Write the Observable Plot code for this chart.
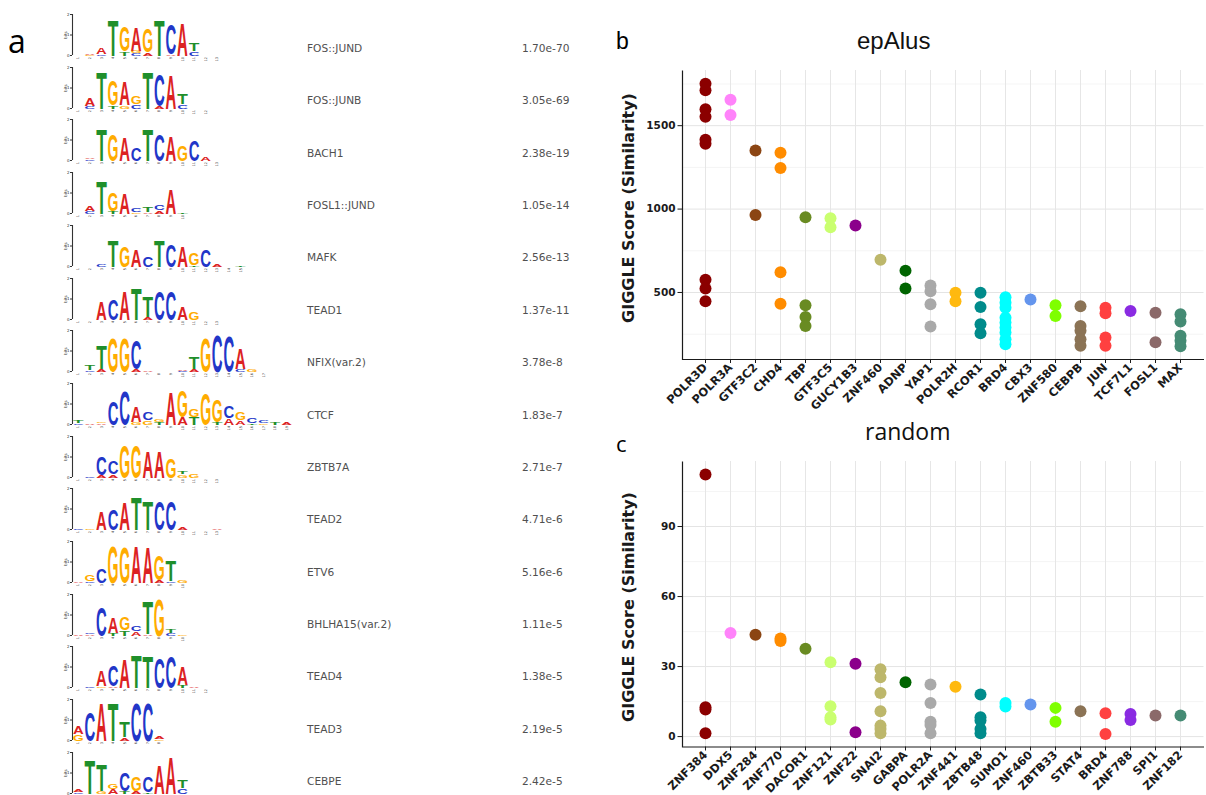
<!DOCTYPE html>
<html><head><meta charset="utf-8">
<script src="https://cdn.jsdelivr.net/npm/d3@7"></script>
<script src="https://cdn.jsdelivr.net/npm/@observablehq/plot@0.6"></script>
<style>
html,body{margin:0;padding:0;background:#fff;}
#fig{position:relative;width:1206px;height:795px;overflow:hidden;background:#fff;}
.abs{position:absolute;white-space:nowrap;}
</style></head><body><div id="fig"></div>
<script>
// ---------------- DATA ----------------
const motifNames = ["FOS::JUND","FOS::JUNB","BACH1","FOSL1::JUND","MAFK","TEAD1","NFIX(var.2)","CTCF","ZBTB7A","TEAD2","ETV6","BHLHA15(var.2)","TEAD4","TEAD3","CEBPE"];
const motifPvalues = ["1.70e-70","3.05e-69","2.38e-19","1.05e-14","2.56e-13","1.37e-11","3.78e-8","1.83e-7","2.71e-7","4.71e-6","5.16e-6","1.11e-5","1.38e-5","2.19e-5","2.42e-5"];
// each column: letters with information content (bits)
const motifColumns = [
  ["", "G.03 A.03", "C.08 A.33", "T1.75", "T.2 G1.2", "C.1 G.1 A1.15", "A.15 G1.15", "T1.75", "A.05 C1.5", "A1.6", "C.2 T.35", "", ""],
  ["", "C.1 A.35", "T1.8", "T.15 G1.2", "G.15 A1.15", "C.2 G.4", "T1.8", "A.1 C1.55", "A1.65", "C.2 T.5", "", ""],
  ["", "C.06 A.08", "T1.55", "G1.3", "A1.15", "C.65", "T1.55", "C1.3", "A1.2", "G.75", "C1.05", "A.2", ""],
  ["", "C.1 A.25", "T1.6", "T.1 G.9", "A1.0", "G.05 C.2", "A.08 T.25", "A.15 C.25", "A1.2", "T.05"],
  ["", "", "C.12", "T1.3", "G1.0", "A.85", "C.5", "T1.3", "C1.1", "A1.0", "T.05 G.6", "C.85", "A.1", "", "T.03"],
  ["", "", "A.9", "C1.05", "A1.4", "T1.55", "A.1 T1.0", "C1.4", "C1.4", "A.65", "G.35", "", ""],
  ["", "C.05 T.28", "A.1 T1.15", "G1.7", "G1.7", "A.1 C1.45", "A.05", "", "", "C.03 A.05", "A.1 T.6", "G1.65", "C1.8", "C1.75", "C.1 A1.05", "G.1", ""],
  ["C.05 T.15", "A.03", "A.05 G.08", "C1.15", "C1.65", "G.1 A.75", "G.2 C.4", "T.1 G.12", "A1.6", "A.35 G1.3", "T.35 G.4", "G1.55", "T.1 G1.1", "A.3 C.6", "A.2 G.35", "T.05 C.25", "G.05 C.1", "T.1", "A.1"],
  ["", "C.03", "A.1 C.9", "A.15 C.65", "G1.6", "G1.6", "A1.3", "A1.3", "G.95", "G.15 T.15", "G.2", "", ""],
  ["C.03", "G.05", "A.9", "C1.0", "A1.35", "T1.6", "T1.45", "C1.45", "C1.45", "A.15", "", "", "A.05"],
  ["A.05", "C.08 G.3", "C.7", "G1.8", "G1.75", "A1.8", "A1.75", "A.1 G1.25", "C.05 T1.0", "G.15"],
  ["A.03", "A.05 C.05", "C1.4", "T.1 A.75", "T.25 G.65", "A.2 C.25", "A.05 T1.6", "G1.8", "C.1 T.2", "G.05"],
  ["", "C.03", "G.08 A.8", "A.05 C1.0", "A1.4", "T1.6", "T1.55", "C1.5", "C1.55", "T.1 A.9", "A.03", ""],
  ["G.3 A.4", "C1.4", "A1.85", "T1.85", "A.15 T.75", "C1.85", "C1.85", "G.08 A.12"],
  ["C.05 A.1", "T1.65", "G.1 T1.3", "A.22 G.25", "T.1 C.9", "A.1 G.7", "T.05 C.8", "A1.4", "A1.8", "C.25 T.4"]
];
const bases = ["A","C","G","T"];
const baseColors = ["#dc2222","#2236c8","#ffac00","#1f8f2b"];

const epalusTFs = ["POLR3D","POLR3A","GTF3C2","CHD4","TBP","GTF3C5","GUCY1B3","ZNF460","ADNP","YAP1","POLR2H","RCOR1","BRD4","CBX3","ZNF580","CEBPB","JUN","TCF7L1","FOSL1","MAX"];
const epalusScores = [
  [1752,1712,1599,1554,1415,1391,577,524,448],
  [1655,1564],
  [1351,964],
  [1338,1246,621,433],
  [951,424,353,299],
  [945,891],
  [901],
  [696],
  [631,524],
  [542,508,429,296],
  [498,448],
  [498,413,310,256],
  [472,439,409,349,320,290,260,220,190],
  [458],
  [423,359],
  [418,299,270,220,180],
  [409,375,230,180],
  [389],
  [379,201],
  [369,326,240,210,177]
];
const epalusMajorTicks = [500,1000,1500];
const epalusMinorTicks = [250,750,1250,1750];

const randomTFs = ["ZNF384","DDX5","ZNF284","ZNF770","DACOR1","ZNF121","ZNF22","SNAI2","GABPA","POLR2A","ZNF441","ZBTB48","SUMO1","ZNF460","ZBTB33","STAT4","BRD4","ZNF788","SPI1","ZNF182"];
const randomScores = [
  [112.3,12.6,11.6,1.4],
  [44.4],
  [43.6],
  [42.0,41.0],
  [37.6],
  [31.9,13.0,8.3,7.3],
  [31.2,1.9],
  [28.9,25.4,18.7,10.9,4.7,3.3,1.4],
  [23.3],
  [22.3,14.4,6.4,5.0,1.4],
  [21.4],
  [18.0,8.3,6.9,3.3,1.4],
  [14.4,12.9],
  [13.7],
  [12.3,6.4],
  [10.9],
  [10.0,1.1],
  [9.7,7.1],
  [9.0],
  [9.0]
];
const randomMajorTicks = [0,30,60,90];
const randomMinorTicks = [15,45,75,105];

const tfColors = ["#8B0000","#FF83FA","#8B4513","#FF8C00","#698B22","#CAFF70","#8B008B","#BDB76B","#006400","#A9A9A9","#FFB90F","#008B8B","#00FFFF","#6495ED","#7FFF00","#8B7355","#FF4040","#8A2BE2","#8B6969","#458B74"];

// ---------------- LAYOUT HELPERS ----------------
const fig = document.getElementById("fig");
function addText(txt, o) {
  const d = document.createElement("div");
  d.className = "abs";
  d.textContent = txt;
  const k = o.k ?? 0.846;
  Object.assign(d.style, {
    left: o.left + "px", top: (o.baseline - k * o.size) + "px",
    fontSize: o.size + "px", lineHeight: o.size + "px",
    fontFamily: o.family, fontWeight: o.weight || "normal", color: o.color || "#000"
  });
  fig.appendChild(d);
  return d;
}
function addVTitle(txt, cx, cy) {
  const d = document.createElement("div");
  d.className = "abs";
  d.textContent = txt;
  Object.assign(d.style, {
    left: cx + "px", top: cy + "px", transform: "translate(-50%,-50%) rotate(-90deg)",
    fontSize: "16px", lineHeight: "16px", fontFamily: "DejaVu Sans", fontWeight: "bold", color: "#1a1a1a"
  });
  fig.appendChild(d);
}

// ---------------- PANEL A: motif logos ----------------
addText("a", {left: 8, baseline: 53, size: 32, family: "Open Sans", k: 0.888});
const LOGO_MAX_POS = 19;
const logoXDomain = [0.5, LOGO_MAX_POS + 0.5];
const CAP = 0.716;            // cap height of Liberation Sans (em)
const ADV = {A: 0.70, C: 0.70, G: 0.74, T: 0.60};
const LETTER_FS = 10;

motifColumns.forEach((cols, m) => {
  const letters = [];
  cols.forEach((col, c) => {
    const items = col.trim() ? col.trim().split(/\s+/).map(s => ({letter: s[0], h: +s.slice(1)})) : [];
    items.sort((a, b) => a.h - b.h);
    let acc = 0;
    for (const it of items) { letters.push({pos: c + 1, letter: it.letter, h: it.h, y0: acc}); acc += it.h; }
  });
  const positions = d3.range(1, cols.length + 1);
  const baseline = 55 + 52.7 * m;
  const svg = Plot.plot({
    width: 300, height: 53, marginLeft: 72, marginRight: 8, marginTop: 6, marginBottom: 6,
    x: {domain: logoXDomain},
    y: {domain: [0, 2]},
    color: {domain: bases, range: baseColors},
    style: {background: "transparent", color: "#333", overflow: "visible", fontFamily: "DejaVu Sans"},
    marks: [
      Plot.ruleX([logoXDomain[0]], {y1: 0, y2: 2, strokeWidth: 1.1}),
      Plot.axisY({ticks: [0, 1, 2], tickFormat: d3.format("d"), tickSize: 2, tickPadding: 1, fontSize: 4, label: "bits", labelAnchor: "center", labelOffset: 8, labelArrow: "none"}),
      Plot.axisX({ticks: positions, tickSize: 0, tickPadding: 1.5, fontSize: 3.5, tickRotate: -90, label: null}),
      Plot.text(letters, {x: "pos", y: "y0", text: "letter", fill: "letter", lineAnchor: "bottom",
        fontSize: LETTER_FS, fontFamily: "Liberation Sans", fontWeight: "bold", ariaLabel: "letters"})
    ]
  });
  svg.style.position = "absolute";
  svg.style.left = "0px";
  svg.style.top = (baseline - 41 - 6) + "px";
  fig.appendChild(svg);
  const ys = svg.scale("y"), xs = svg.scale("x");
  const colW = Math.abs(xs.apply(2) - xs.apply(1));
  // the letters: text elements that are not inside an axis group
  const letterNodes = Array.from(svg.querySelectorAll("text")).filter(t => {
    const g = t.closest("g[aria-label]");
    const lab = g ? g.getAttribute("aria-label") : "";
    return !/axis/.test(lab) && bases.includes(t.textContent.trim());
  });
  letterNodes.forEach((t, k) => {
    const d = t.__data__;
    const i = typeof d === "number" ? d : k;
    const L = letters[i];
    if (!L) return;
    const hpx = ys.apply(0) - ys.apply(L.h);
    const sy = hpx / (CAP * LETTER_FS);
    const sx = colW * 0.9 / (ADV[L.letter] * LETTER_FS);
    let tx = xs.apply(L.pos), ty = ys.apply(L.y0);
    t.removeAttribute("x"); t.removeAttribute("y"); t.removeAttribute("dy");
    t.setAttribute("text-anchor", "middle");
    t.setAttribute("transform", `translate(${tx.toFixed(2)},${ty.toFixed(2)}) scale(${sx.toFixed(3)},${sy.toFixed(3)})`);
    // ensure parent group has no extra offset
    const g = t.parentNode;
    if (g && g.getAttribute && g.getAttribute("transform") && g.tagName === "g" && g !== svg) {
      // Plot may add a 0.5px offset on the group; keep it (negligible)
    }
  });

  addText(motifNames[m], {left: 307, baseline: 52 + 52.36 * m, size: 10.6, family: "DejaVu Sans", color: "#505050"});
  addText(motifPvalues[m], {left: 522, baseline: 52 + 52.36 * m, size: 10.6, family: "DejaVu Sans", color: "#505050"});
});

// ---------------- PANELS B & C: dot plots ----------------
function dotPanel(tfs, scores, o) {
  const rows = tfs.flatMap((tf, i) => scores[i].map(v => ({tf, v})));
  const [lo, hi] = d3.extent(rows, d => d.v);
  const pad = (hi - lo) * 0.05;
  const W = 606, mL = 82, mR = 2.5;
  const fw = W - mL - mR, fh = o.height - o.marginTop - o.marginBottom;
  const svg = Plot.plot({
    width: W, height: o.height, marginLeft: mL, marginRight: mR, marginTop: o.marginTop, marginBottom: o.marginBottom,
    x: {type: "point", domain: tfs, padding: 0.6},
    y: {domain: [lo - pad, hi + pad]},
    color: {domain: tfs, range: tfColors},
    style: {fontFamily: "DejaVu Sans", fontWeight: "bold", color: "#1a1a1a", background: "transparent", overflow: "visible"},
    marks: [
      Plot.ruleY(o.minorTicks, {stroke: "#f1f1f1", strokeWidth: 0.8}),
      Plot.ruleY(o.majorTicks, {stroke: "#e4e4e4", strokeWidth: 1}),
      Plot.ruleX(tfs, {stroke: "#e6e6e6", strokeWidth: 1}),
      Plot.frame({stroke: "#1a1a1a", strokeWidth: 1.2, strokeDasharray: `0,${fw + fh},${fw + fh + 20}`}),
      Plot.dot(rows, {x: "tf", y: "v", fill: "tf", r: 6}),
      Plot.axisX({tickRotate: -45, tickSize: 4, tickPadding: 2, fontSize: 11.5, fontWeight: "bold", label: null}),
      Plot.axisY({ticks: o.majorTicks, tickFormat: d3.format("d"), tickSize: 4.5, tickPadding: 2.5, fontSize: 10.5, fontWeight: "bold", label: null})
    ]
  });
  svg.style.position = "absolute";
  svg.style.left = "600px";
  svg.style.top = o.top + "px";
  fig.appendChild(svg);
}

addText("b", {left: 616, baseline: 49, size: 23, family: "Liberation Sans"});
addText("epAlus", {left: 857, baseline: 49, size: 24, family: "Liberation Sans", color: "#111"});
addVTitle("GIGGLE Score (Similarity)", 629, 208);
dotPanel(epalusTFs, epalusScores, {top: 55, height: 366, marginTop: 15, marginBottom: 62, majorTicks: epalusMajorTicks, minorTicks: epalusMinorTicks});

addText("c", {left: 616, baseline: 452, size: 22, family: "Open Sans", k: 0.888});
addText("random", {left: 865, baseline: 440, size: 23, family: "Open Sans", k: 0.888, color: "#111"});
addVTitle("GIGGLE Score (Similarity)", 629, 607);
dotPanel(randomTFs, randomScores, {top: 450, height: 345, marginTop: 11, marginBottom: 48.5, majorTicks: randomMajorTicks, minorTicks: randomMinorTicks});
</script></body></html>
